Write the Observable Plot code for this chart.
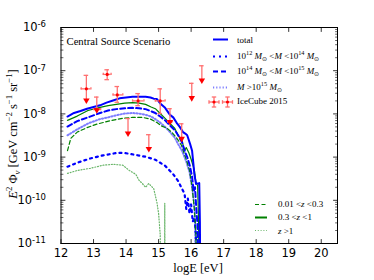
<!DOCTYPE html>
<html>
<head>
<meta charset="utf-8">
<script src="https://cdn.jsdelivr.net/npm/d3@7"></script>
<script src="https://cdn.jsdelivr.net/npm/@observablehq/plot@0.6"></script>
<style>
  body { margin: 0; background: white; }
  #wrap { position: relative; width: 374px; height: 280px; overflow: hidden; background: white; }
  .ov { position: absolute; font-family: "Liberation Serif", "DejaVu Serif", serif; color: black; white-space: nowrap; line-height: 1; }
  .ov sup, .ov sub { font-size: 70%; line-height: 0; }
  .row { position: absolute; display: flex; align-items: center; transform: translateY(-50%); font-family: "Liberation Serif", serif; font-size: 9px; white-space: nowrap; line-height: 1; }
  .row svg { display: block; margin-right: 9px; }
  .row sup, .row sub { font-size: 70%; line-height: 0; }
</style>
</head>
<body>
<div id="wrap"></div>
<script>
// ---- data ----
const xTicks = [12, 13, 14, 15, 16, 17, 18, 19, 20];
const yExponents = [-11, -10, -9, -8, -7, -6];

// [logE, E^2 Phi]
const total = [[12.2,8.7e-9],[12.4,1.05e-8],[12.6,1.17e-8],[12.8,1.32e-8],[13.0,1.45e-8],[13.2,1.58e-8],[13.4,1.82e-8],[13.6,2.04e-8],[13.8,2.29e-8],[14.0,2.4e-8],[14.2,2.5e-8],[14.4,2.5e-8],[14.6,2.5e-8],[14.75,2.4e-8],[14.85,2.25e-8],[14.95,2.2e-8],[15.05,1.75e-8],[15.2,1.38e-8],[15.35,9.5e-9],[15.45,8.3e-9],[15.55,6.3e-9],[15.65,5.0e-9],[15.75,3.8e-9],[15.82,3.5e-9],[15.88,3.2e-9],[15.97,2.0e-9],[16.03,1.4e-9],[16.07,7e-10],[16.1,4e-10],[16.15,2.4e-10],[16.25,2.5e-10],[16.27,3.2e-11],[16.29,1e-13]];
const mass12to14 = [[12.2,6.0e-10],[12.5,7.4e-10],[12.9,9.3e-10],[13.3,1.1e-9],[13.75,1.26e-9],[14.0,1.23e-9],[14.3,1.12e-9],[14.6,1.02e-9],[14.9,8.7e-10],[15.2,6.3e-10],[15.45,4.0e-10],[15.6,2.8e-10],[15.8,1.4e-10],[15.85,6.3e-11],[15.9,1.1e-10],[15.95,5e-11],[16.0,8e-11],[16.05,3.2e-11],[16.1,4e-11],[16.15,1.6e-11],[16.2,1e-13]];
const mass14to15 = [[12.2,5.1e-9],[12.5,6.8e-9],[12.83,8.3e-9],[13.2,1.05e-8],[13.45,1.2e-8],[13.7,1.29e-8],[13.96,1.35e-8],[14.2,1.38e-8],[14.4,1.35e-8],[14.6,1.29e-8],[14.77,1.15e-8],[14.9,1.05e-8],[15.05,8.7e-9],[15.2,7.1e-9],[15.35,5.4e-9],[15.5,4.2e-9],[15.6,3.2e-9],[15.72,2.2e-9],[15.8,1.4e-9],[15.88,1e-9],[15.96,6.3e-10],[16.03,3.5e-10],[16.08,1.6e-10],[16.12,2e-10],[16.16,6.3e-11],[16.2,2.5e-11],[16.24,1e-13]];
const massAbove15 = [[12.2,3.2e-9],[12.5,4.4e-9],[12.83,6.0e-9],[13.2,7.6e-9],[13.45,8.3e-9],[13.7,9.3e-9],[13.96,1.02e-8],[14.2,1.05e-8],[14.4,1.02e-8],[14.6,9.5e-9],[14.77,8.7e-9],[14.9,7.6e-9],[15.05,6.3e-9],[15.2,5.0e-9],[15.35,3.8e-9],[15.5,2.8e-9],[15.6,2.0e-9],[15.72,1.4e-9],[15.85,7.9e-10],[15.95,4.5e-10],[16.03,2e-10],[16.08,1e-10],[16.12,4e-11],[16.16,1e-13]];
const zLow = [[12.2,1.41e-9],[12.3,2.7e-9],[12.5,3.8e-9],[12.8,4.8e-9],[13.1,5.8e-9],[13.5,6.9e-9],[13.9,7.9e-9],[14.2,8.3e-9],[14.5,8.3e-9],[14.75,7.6e-9],[14.95,6.3e-9],[15.1,5.2e-9],[15.25,4.7e-9],[15.4,3.8e-9],[15.55,2.8e-9],[15.7,1.9e-9],[15.85,8.9e-10],[15.95,5e-10],[16.03,2e-10],[16.1,6.3e-11],[16.15,1.6e-11],[16.18,1e-13]];
const zMid = [[12.2,7.1e-9],[12.5,8.9e-9],[12.83,1.2e-8],[13.2,1.41e-8],[13.45,1.55e-8],[13.7,1.66e-8],[13.96,1.78e-8],[14.2,1.82e-8],[14.4,1.78e-8],[14.6,1.66e-8],[14.77,1.45e-8],[14.9,1.32e-8],[15.05,1.02e-8],[15.2,7.9e-9],[15.35,6.0e-9],[15.5,4.6e-9],[15.6,3.2e-9],[15.72,2.4e-9],[15.8,1.4e-9],[15.85,1.66e-9],[15.93,1.26e-9],[16.0,8.9e-10],[16.1,5e-10],[16.15,2.5e-10],[16.2,2.2e-10],[16.23,3.2e-11],[16.26,1e-13]];
const zHigh = [[12.2,4.2e-10],[12.5,4.9e-10],[12.9,5.5e-10],[13.3,6.5e-10],[13.6,6.8e-10],[13.9,6.5e-10],[14.1,4.9e-10],[14.3,4.0e-10],[14.4,2.9e-10],[14.5,2.45e-10],[14.6,2.0e-10],[14.7,2.45e-10],[14.85,1.86e-10],[14.95,8.9e-11],[15.0,5e-11],[15.05,1.6e-11],[15.08,1e-13],[15.18,1e-13],[15.19,8.5e-11],[15.2,1e-13]];

// IceCube 2015 points
const iceE      = [12.78, 13.10, 13.42, 13.73, 14.37, 15.05, 15.35];
const iceFlux   = [3.8e-8, 1.26e-8, 8.2e-8, 2.75e-8, 2.0e-8, 2.0e-8, 6.5e-9];
const iceHi     = [7.8e-8, 2.45e-8, 1.05e-7, 4.3e-8, 2.95e-8, 3.8e-8, 1.32e-8];
const iceLo     = [1.86e-8, 1.1e-8, 6.2e-8, 1.86e-8, 1.55e-8, 1.02e-8, 5.9e-9];
const iceELo    = [12.62, 13.0, 13.3, 13.6, 14.2, 14.9, 15.28];
const iceEHi    = [12.92, 13.22, 13.54, 13.9, 14.55, 15.2, 15.42];
const iceLoArrow= [true, true, false, false, false, false, true];
// IceCube 2015 upper limits
const ulE   = [14.06, 14.70, 15.71, 16.02, 16.33];
const ulTop = [7.8e-9, 3.3e-9, 5.9e-9, 5.1e-8, 1.3e-7];
const ulTip = [3.2e-9, 1.4e-9, 2.4e-9, 2.1e-8, 5.4e-8];

// ---- build ----
const asPts = arr => arr.map(([x, y]) => ({x, y}));
const pts = iceE.map((e, i) => ({e, y: iceFlux[i], hi: iceHi[i], lo: iceLo[i], eLo: iceELo[i], eHi: iceEHi[i], arrow: iceLoArrow[i]}));
const uls = ulE.map((e, i) => ({e, top: ulTop[i], tip: ulTip[i]}));
const yMajor = yExponents.map(e => Math.pow(10, e));
const yMinor = [];
for (const e of yExponents.slice(0, -1)) for (let k = 2; k <= 9; k++) yMinor.push(k * Math.pow(10, e));

const tickShape = { draw(ctx, l) { ctx.moveTo(0, 0); ctx.lineTo(0, -l); } };
const capW = 0.07;
const lightRed = "#ff7070";
const BLUE = "#0000ff", GREEN = "#008000", LIGHTBLUE = "#6f6fff", LIGHTGREEN = "#4fa84f";
const DASHDOT = "2,4", DOTTED_B = "1.2,2", DOTTED_G = "1,1.8", DASHED_B = "5,3", DASHED_G = "4,2.5";

const lineOpts = (stroke, w, dash, op = 1) => ({x: "x", y: "y", stroke, strokeWidth: w, strokeDasharray: dash, strokeOpacity: op, clip: true, curve: "linear"});

const chart = Plot.plot({
  width: 374, height: 280,
  marginLeft: 60.5, marginRight: 37, marginTop: 27, marginBottom: 37,
  x: {domain: [12, 20.5]},
  y: {type: "log", domain: [1e-11, 1e-6]},
  style: {fontFamily: "DejaVu Sans", fontSize: "11px", background: "white", color: "black"},
  marks: [
    Plot.line(asPts(zHigh), lineOpts(LIGHTGREEN, 1.2, DOTTED_G, 0.85)),
    Plot.line(asPts(massAbove15), lineOpts(LIGHTBLUE, 2, DOTTED_B, 0.9)),
    Plot.line(asPts(mass12to14), lineOpts(BLUE, 2.2, DASHDOT)),
    Plot.line(asPts(zLow), lineOpts(GREEN, 1.2, DASHED_G)),
    Plot.line(asPts(zMid), lineOpts(GREEN, 1.2, null)),
    Plot.line(asPts(mass14to15), lineOpts(BLUE, 2, DASHED_B)),
    Plot.line(asPts(total), lineOpts(BLUE, 2, null)),
    // IceCube data points
    Plot.ruleX(pts, {x: "e", y1: "lo", y2: "hi", stroke: lightRed, strokeWidth: 1.3}),
    Plot.ruleY(pts, {y: "y", x1: "eLo", x2: "eHi", stroke: lightRed, strokeWidth: 1.3}),
    Plot.ruleY(pts, {y: "hi", x1: d => d.e - capW, x2: d => d.e + capW, stroke: lightRed, strokeWidth: 1.3}),
    Plot.ruleY(pts.filter(d => !d.arrow), {y: "lo", x1: d => d.e - capW, x2: d => d.e + capW, stroke: lightRed, strokeWidth: 1.3}),
    Plot.ruleX(pts, {x: "eLo", y1: d => d.y / 1.06, y2: d => d.y * 1.06, stroke: lightRed, strokeWidth: 1.3}),
    Plot.ruleX(pts, {x: "eHi", y1: d => d.y / 1.06, y2: d => d.y * 1.06, stroke: lightRed, strokeWidth: 1.3}),
    Plot.dot(pts, {x: "e", y: "y", r: 1.6, fill: "red", stroke: "none"}),
    Plot.dot(pts.filter(d => d.arrow), {x: "e", y: "lo", symbol: "triangle", rotate: 180, r: 2.4, fill: "red", stroke: "none", dy: -2}),
    // upper limits
    Plot.ruleX(uls, {x: "e", y1: "tip", y2: "top", stroke: lightRed, strokeWidth: 1.3}),
    Plot.ruleY(uls, {y: "top", x1: d => d.e - capW, x2: d => d.e + capW, stroke: lightRed, strokeWidth: 1.3}),
    Plot.dot(uls, {x: "e", y: "tip", symbol: "triangle", rotate: 180, r: 2.4, fill: "red", stroke: "none", dy: -2}),
    // frame + axes
    Plot.frame({stroke: "black", strokeWidth: 1}),
    Plot.axisX({ticks: xTicks, tickSize: 0, tickPadding: 5, tickFormat: d => String(d), fontSize: 11.5, label: null}),
    Plot.axisY({ticks: yMajor, tickSize: 0, tickPadding: 15, tickFormat: d => String(Math.round(Math.log10(d))), fontSize: 11.5, label: null}),
    Plot.vectorY(yMajor, {y: d => d, frameAnchor: "left", rotate: 90, length: 4, anchor: "start", shape: tickShape, stroke: "black", strokeWidth: 0.8}),
    Plot.vectorY(yMajor, {y: d => d, frameAnchor: "right", rotate: -90, length: 4, anchor: "start", shape: tickShape, stroke: "black", strokeWidth: 0.8}),
    Plot.vectorY(yMinor, {y: d => d, frameAnchor: "left", rotate: 90, length: 2, anchor: "start", shape: tickShape, stroke: "black", strokeWidth: 0.6}),
    Plot.vectorY(yMinor, {y: d => d, frameAnchor: "right", rotate: -90, length: 2, anchor: "start", shape: tickShape, stroke: "black", strokeWidth: 0.6}),
    Plot.vectorX(xTicks, {x: d => d, frameAnchor: "bottom", rotate: 0, length: 4, anchor: "start", shape: tickShape, stroke: "black", strokeWidth: 0.8}),
    Plot.vectorX(xTicks, {x: d => d, frameAnchor: "top", rotate: 180, length: 4, anchor: "start", shape: tickShape, stroke: "black", strokeWidth: 0.8})
  ]
});

// y tick labels as 10 with superscript exponent
chart.querySelectorAll('[aria-label="y-axis tick label"] text').forEach(t => {
  const e = t.textContent;
  t.textContent = "10";
  const ts = document.createElementNS("http://www.w3.org/2000/svg", "tspan");
  ts.setAttribute("dy", "-0.45em");
  ts.setAttribute("font-size", "8.5");
  ts.textContent = e;
  t.appendChild(ts);
});

const wrap = document.getElementById("wrap");
wrap.appendChild(chart);

// ---- overlays: title, axis labels, legends ----
function addHTML(html) { wrap.insertAdjacentHTML("beforeend", html); }

addHTML(`<div class="ov" style="left:66.5px;top:36px;font-size:10.7px;">Central Source Scenario</div>`);
addHTML(`<div class="ov" style="left:198px;top:268px;font-size:12.5px;transform:translate(-50%,-50%);">logE [eV]</div>`);
addHTML(`<div class="ov" style="left:13px;top:134px;font-size:12.5px;transform:translate(-50%,-50%) rotate(-90deg);"><i>E</i><sup>2</sup> Φ<sub><i>ν</i></sub> [GeV cm<sup>−2</sup> s<sup>−1</sup> sr<sup>−1</sup>]</div>`);

const sw = (stroke, w, dash, op = 1, len = 15) =>
  `<svg width="${len}" height="8"><line x1="0" y1="4" x2="${len}" y2="4" stroke="${stroke}" stroke-width="${w}" ${dash ? `stroke-dasharray="${dash}"` : ""} stroke-opacity="${op}"/></svg>`;
const msun = `<i>M</i><sub>⊙</sub>`;
const legend1 = [
  [39.5, sw(BLUE, 2, null), "total"],
  [56, sw(BLUE, 2.2, DASHDOT), `10<sup>12</sup> ${msun} &lt;<i>M</i> &lt;10<sup>14</sup> ${msun}`],
  [71, sw(BLUE, 2, DASHED_B), `10<sup>14</sup> ${msun} &lt;<i>M</i> &lt;10<sup>15</sup> ${msun}`],
  [87, sw(LIGHTBLUE, 2, DOTTED_B, 0.9), `<i>M</i> &gt;10<sup>15</sup> ${msun}`],
];
legend1.forEach(([y, s, t]) => addHTML(`<div class="row" style="left:213px;top:${y}px;">${s}<span>${t}</span></div>`));
const cross = cx => `<line x1="${cx-5}" y1="6" x2="${cx+5}" y2="6" stroke="${lightRed}" stroke-width="1.3"/><line x1="${cx}" y1="1" x2="${cx}" y2="11" stroke="${lightRed}" stroke-width="1.3"/><line x1="${cx-2.2}" y1="1" x2="${cx+2.2}" y2="1" stroke="${lightRed}" stroke-width="1.3"/><line x1="${cx-2.2}" y1="11" x2="${cx+2.2}" y2="11" stroke="${lightRed}" stroke-width="1.3"/><line x1="${cx-5}" y1="4.2" x2="${cx-5}" y2="7.8" stroke="${lightRed}" stroke-width="1.3"/><line x1="${cx+5}" y1="4.2" x2="${cx+5}" y2="7.8" stroke="${lightRed}" stroke-width="1.3"/><circle cx="${cx}" cy="6" r="1.6" fill="red"/>`;
addHTML(`<div class="row" style="left:207.5px;top:101.7px;"><svg width="26" height="12" style="margin-right:3.5px">${cross(6)}${cross(19.5)}</svg><span>IceCube 2015</span></div>`);

const legend2 = [
  [204, sw(GREEN, 1.2, DASHED_G, 1, 12), `0.01 &lt;<i>z</i> &lt;0.3`],
  [217.3, sw(GREEN, 1.8, null, 1, 12), `0.3 &lt;<i>z</i> &lt;1`],
  [230.7, sw(LIGHTGREEN, 1.2, DOTTED_G, 0.85, 12), `<i>z</i> &gt;1`],
];
legend2.forEach(([y, s, t]) => addHTML(`<div class="row" style="left:255px;top:${y}px;">${s.replace('<svg', '<svg style="margin-right:11px"')}<span>${t}</span></div>`));
</script>
</body>
</html>
